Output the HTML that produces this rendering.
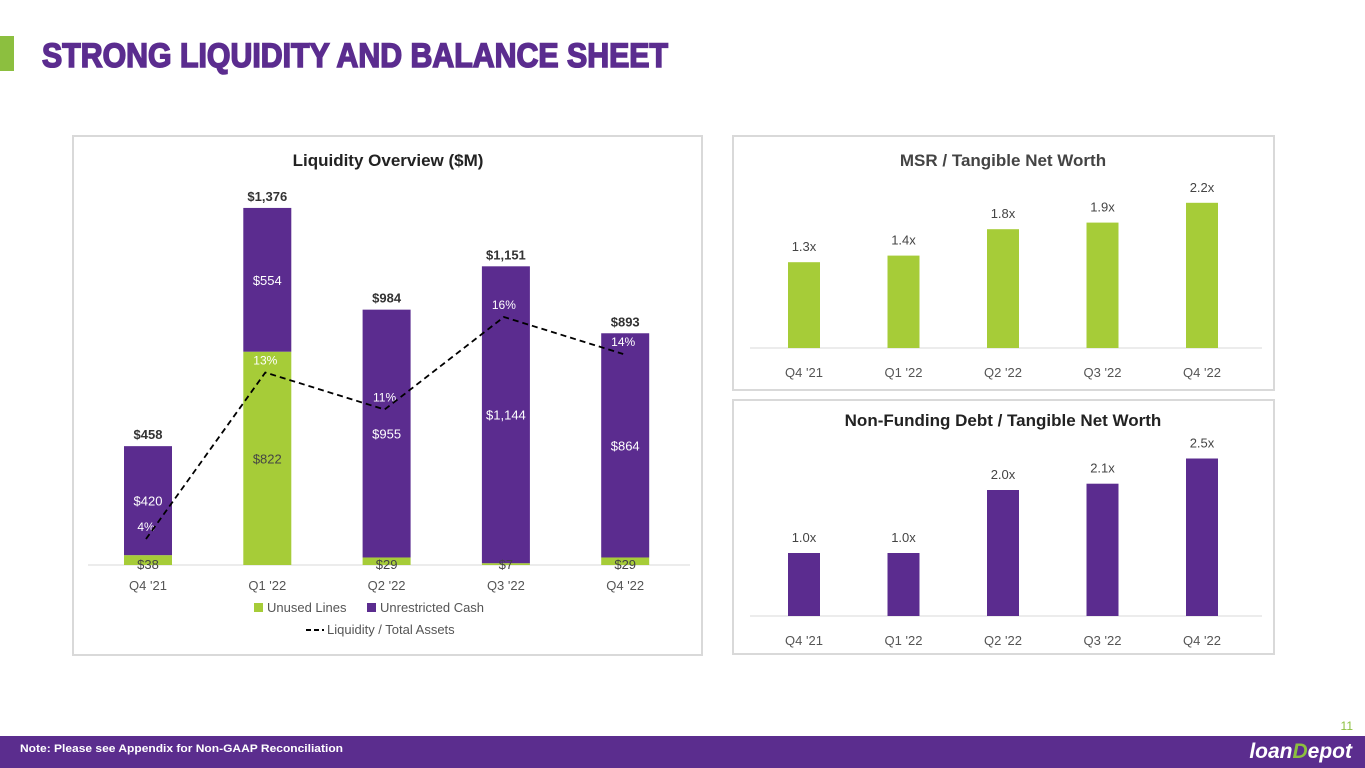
<!DOCTYPE html>
<html><head><meta charset="utf-8"><style>
html,body{margin:0;padding:0;background:#fff;width:1365px;height:768px;overflow:hidden}
svg{display:block;font-family:"Liberation Sans",sans-serif}
</style></head><body>
<svg id="s" width="1365" height="768" viewBox="0 0 1365 768">
<rect x="0" y="36" width="14" height="35" fill="#8cbf3f"/>
<text x="42" y="67" font-size="34" font-weight="bold" fill="#5b2c8f" stroke="#5b2c8f" stroke-width="1.6" textLength="626" lengthAdjust="spacingAndGlyphs">STRONG LIQUIDITY AND BALANCE SHEET</text>
<rect x="73" y="136" width="629" height="519" fill="#fff" stroke="#d9d9d9" stroke-width="2"/>
<rect x="733" y="136" width="541" height="254" fill="#fff" stroke="#d9d9d9" stroke-width="2"/>
<rect x="733" y="400" width="541" height="254" fill="#fff" stroke="#d9d9d9" stroke-width="2"/>
<text x="388" y="166" font-size="17" font-weight="bold" fill="#222" text-anchor="middle">Liquidity Overview ($M)</text>
<text x="1003" y="166" font-size="17" font-weight="bold" fill="#444" text-anchor="middle">MSR / Tangible Net Worth</text>
<text x="1003" y="426" font-size="17" font-weight="bold" fill="#222" text-anchor="middle">Non-Funding Debt / Tangible Net Worth</text>
<line x1="88" y1="565" x2="690" y2="565" stroke="#d9d9d9"/>
<line x1="750" y1="348" x2="1262" y2="348" stroke="#d9d9d9"/>
<line x1="750" y1="616" x2="1262" y2="616" stroke="#d9d9d9"/>
<g id="g1"></g><g id="g2"></g><g id="g3"></g>
<rect x="254" y="603" width="9" height="9" fill="#a6cc38"/>
<text x="267" y="612" font-size="13" fill="#555">Unused Lines</text>
<rect x="367" y="603" width="9" height="9" fill="#5b2c8f"/>
<text x="380" y="612" font-size="13" fill="#555">Unrestricted Cash</text>
<line x1="306" y1="630" x2="324" y2="630" stroke="#000" stroke-width="2" stroke-dasharray="5,3"/>
<text x="327" y="634" font-size="13" fill="#555">Liquidity / Total Assets</text>
<text x="1353" y="730" font-size="12" fill="#8cbf3f" text-anchor="end">11</text>
<rect x="0" y="736" width="1365" height="32" fill="#5b2d8e"/>
<text x="20" y="752" font-size="11" font-weight="bold" fill="#fff" textLength="323" lengthAdjust="spacingAndGlyphs">Note: Please see Appendix for Non-GAAP  Reconciliation</text>
<text x="1352" y="758" font-size="21" font-weight="bold" font-style="italic" fill="#fff" text-anchor="end">loan<tspan fill="#8cbf3f">D</tspan>epot</text>
</svg>
<script>
const categories=["Q4 '21","Q1 '22","Q2 '22","Q3 '22","Q4 '22"];
const unusedLines=[38,822,29,7,29];
const unrestrictedCash=[420,554,955,1144,864];
const totals=[458,1376,984,1151,893];
const liquidityPct=[4,13,11,16,14];
const msrRatio=[1.3,1.4,1.8,1.9,2.2];
const debtRatio=[1.0,1.0,2.0,2.1,2.5];
const NS="http://www.w3.org/2000/svg";
function mk(p,t,a,txt){const e=document.createElementNS(NS,t);for(const k in a)e.setAttribute(k,a[k]);if(txt!=null)e.textContent=txt;p.appendChild(e);return e;}
const GREEN="#a6cc38",PURP="#5b2c8f";
const g1=document.getElementById('g1');
const xL=i=>148+i*119.3, yL=v=>565-v*0.2595, yP=p=>613-p*18.5;
categories.forEach((c,i)=>{
 const x=xL(i),w=48;
 const r1=mk(g1,'rect',{x:x-w/2,y:yL(unusedLines[i]),width:w,height:565-yL(unusedLines[i]),fill:GREEN});
 
 
 const top=yL(unusedLines[i]+unrestrictedCash[i]);
 const r2=mk(g1,'rect',{x:x-w/2,y:top,width:w,height:yL(unusedLines[i])-top,fill:PURP});
 
 
 const t=mk(g1,'text',{x:x,y:top-7,'font-size':13,'font-weight':'bold',fill:'#333','text-anchor':'middle'},'$'+totals[i].toLocaleString('en-US'));
 
 
 const cy=(top+yL(unusedLines[i]))/2;
 const t2=mk(g1,'text',{x:x,y:cy+5,'font-size':13,fill:'#fff','text-anchor':'middle'},'$'+unrestrictedCash[i].toLocaleString('en-US'));
 
 
 const uy=unusedLines[i]>100?(yL(unusedLines[i])+565)/2+5:569;
 const t3=mk(g1,'text',{x:x,y:uy,'font-size':13,fill:'#444','text-anchor':'middle'},'$'+unusedLines[i]);
 
 
 const t4=mk(g1,'text',{x:x,y:590,'font-size':13,fill:'#555','text-anchor':'middle'},c);
 
 
 const t5=mk(g1,'text',{x:x-2,y:yP(liquidityPct[i])-8,'font-size':12,fill:'#fff','text-anchor':'middle'},liquidityPct[i]+'%');
 
 
});
const pl=mk(g1,'polyline',{points:liquidityPct.map((p,i)=>(xL(i)-2)+','+yP(p)).join(' '),fill:'none',stroke:'#000','stroke-width':1.8,'stroke-dasharray':'6,4'});


function ratioChart(g,vals,base,scale,color,name){
 categories.forEach((c,i)=>{
  const x=804+i*99.5,top=base-vals[i]*scale;
  const r=mk(g,'rect',{x:x-16,y:top,width:32,height:base-top,fill:color});
  
  
  const t=mk(g,'text',{x:x,y:top-11,'font-size':13,fill:'#444','text-anchor':'middle'},vals[i].toFixed(1)+'x');
  
  
  const t2=mk(g,'text',{x:x,y:base+29,'font-size':13,fill:'#555','text-anchor':'middle'},c);
  
  
 });
}
ratioChart(document.getElementById('g2'),msrRatio,348,66,GREEN,'msr');
ratioChart(document.getElementById('g3'),debtRatio,616,63,PURP,'debt');
</script>
</body></html>
